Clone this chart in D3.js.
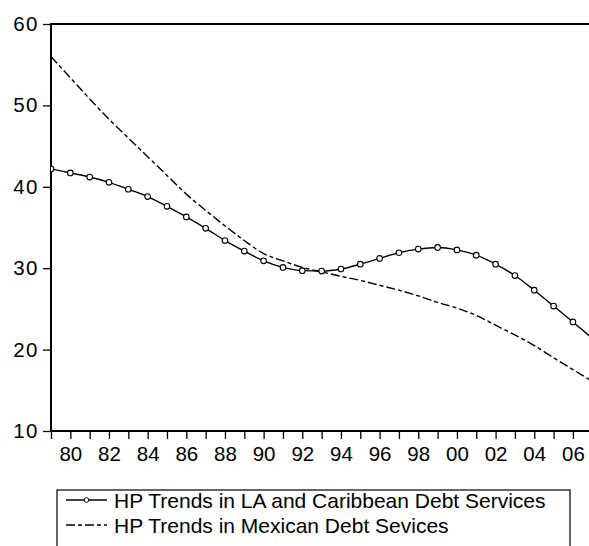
<!DOCTYPE html>
<html>
<head>
<meta charset="utf-8">
<script src="https://cdn.jsdelivr.net/npm/d3@7"></script>
<style>
  html, body { margin: 0; padding: 0; background: #fff; }
  svg { display: block; }
  text { font-family: Arial, "Liberation Sans", sans-serif; fill: #000; }
</style>
</head>
<body>
<svg id="chart" width="589" height="546"></svg>
<script>
// Years covered by both trend series
const years = d3.range(1979, 2008);

// HP trend, Latin America and Caribbean debt services
const laCaribbean = [42.2, 41.7, 41.2, 40.55, 39.7, 38.8, 37.6, 36.3, 34.9, 33.4,
  32.1, 30.9, 30.1, 29.7, 29.65, 29.9, 30.5, 31.2, 31.9, 32.35,
  32.55, 32.25, 31.6, 30.5, 29.1, 27.3, 25.35, 23.4, 21.4];

// HP trend, Mexican debt services
const mexico = [56.0, 53.4, 50.8, 48.3, 46.0, 43.7, 41.4, 39.1, 37.1, 35.2,
  33.4, 31.8, 30.9, 30.1, 29.55, 29.0, 28.5, 27.9, 27.3, 26.6,
  25.8, 25.1, 24.2, 23.0, 21.8, 20.5, 19.0, 17.55, 16.1];

const yTicks = [10, 20, 30, 40, 50, 60];
const xTickLabels = ["80", "82", "84", "86", "88", "90", "92", "94", "96", "98", "00", "02", "04", "06"];
const legendLabels = ["HP Trends in LA and Caribbean Debt Services", "HP Trends in Mexican Debt Sevices"];

const svg = d3.select("#chart");
const plotLeft = 51, plotTop = 24, plotBottom = 431;
const step = 19.33;

const x = d3.scaleLinear().domain([1979, 2007]).range([plotLeft, plotLeft + 28 * step]);
const y = d3.scaleLinear().domain([10, 60]).range([plotBottom, plotTop]);

const tickFont = 20.5;
const legendFont = 21;

// Plot frame (right side runs past the visible edge)
svg.append("rect")
  .attr("x", x(1979)).attr("y", y(60))
  .attr("width", x(2007) - x(1979)).attr("height", y(10) - y(60))
  .attr("fill", "none").attr("stroke", "#000").attr("stroke-width", 2);

// Y axis
const yAxis = svg.append("g")
  .attr("transform", `translate(${plotLeft},0)`)
  .call(d3.axisLeft(y).tickValues(yTicks).tickSize(8).tickSizeOuter(0).tickPadding(4).tickFormat(d3.format("d")));
yAxis.select(".domain").remove();
yAxis.selectAll("line").attr("stroke", "#000").attr("stroke-width", 1.3);
yAxis.selectAll("text").attr("font-size", tickFont).attr("font-family", "Arial, 'Liberation Sans', sans-serif")
  .attr("letter-spacing", 1.5);

// X axis: a tick each year, labels every second year
const xAxis = svg.append("g")
  .attr("transform", `translate(0,${plotBottom})`)
  .call(d3.axisBottom(x).tickValues(years.slice(0, 28)).tickSize(8).tickSizeOuter(0).tickPadding(7)
    .tickFormat(d => (d % 2 === 0 ? xTickLabels[(d - 1980) / 2] : "")));
xAxis.select(".domain").remove();
xAxis.selectAll("line").attr("stroke", "#000").attr("stroke-width", 1.3);
xAxis.selectAll("text").attr("font-size", tickFont).attr("font-family", "Arial, 'Liberation Sans', sans-serif");

svg.append("clipPath").attr("id", "plotclip")
  .append("rect").attr("x", plotLeft).attr("y", plotTop).attr("width", 560).attr("height", plotBottom - plotTop);

const line = d3.line().x((d, i) => x(years[i])).y(d => y(d)).curve(d3.curveMonotoneX);

const plot = svg.append("g").attr("clip-path", "url(#plotclip)");

plot.append("path").datum(mexico)
  .attr("d", line).attr("fill", "none").attr("stroke", "#000")
  .attr("stroke-width", 1.4).attr("stroke-dasharray", "9,3,4,3");

plot.append("path").datum(laCaribbean)
  .attr("d", line).attr("fill", "none").attr("stroke", "#000").attr("stroke-width", 1.4);

plot.selectAll("circle.la").data(laCaribbean).join("circle")
  .attr("class", "la")
  .attr("cx", (d, i) => x(years[i])).attr("cy", d => y(d)).attr("r", 2.8)
  .attr("fill", "#fff").attr("stroke", "#000").attr("stroke-width", 1.1);

// Legend
const lg = svg.append("g");
lg.append("rect").attr("x", 57).attr("y", 490).attr("width", 513).attr("height", 80)
  .attr("fill", "#fff").attr("stroke", "#000").attr("stroke-width", 1.2);

const rows = [
  { label: legendLabels[0], yy: 500, dash: null, marker: true },
  { label: legendLabels[1], yy: 525, dash: "9,3,4,3", marker: false }
];
rows.forEach(r => {
  lg.append("line").attr("x1", 66).attr("x2", 107).attr("y1", r.yy).attr("y2", r.yy)
    .attr("stroke", "#000").attr("stroke-width", 1.4)
    .attr("stroke-dasharray", r.dash);
  if (r.marker) {
    lg.append("circle").attr("cx", 86.5).attr("cy", r.yy).attr("r", 2.3)
      .attr("fill", "#fff").attr("stroke", "#000").attr("stroke-width", 1);
  }
  lg.append("text").attr("x", 114).attr("y", r.yy + 7.5).attr("font-size", legendFont).text(r.label);
});
</script>
</body>
</html>
